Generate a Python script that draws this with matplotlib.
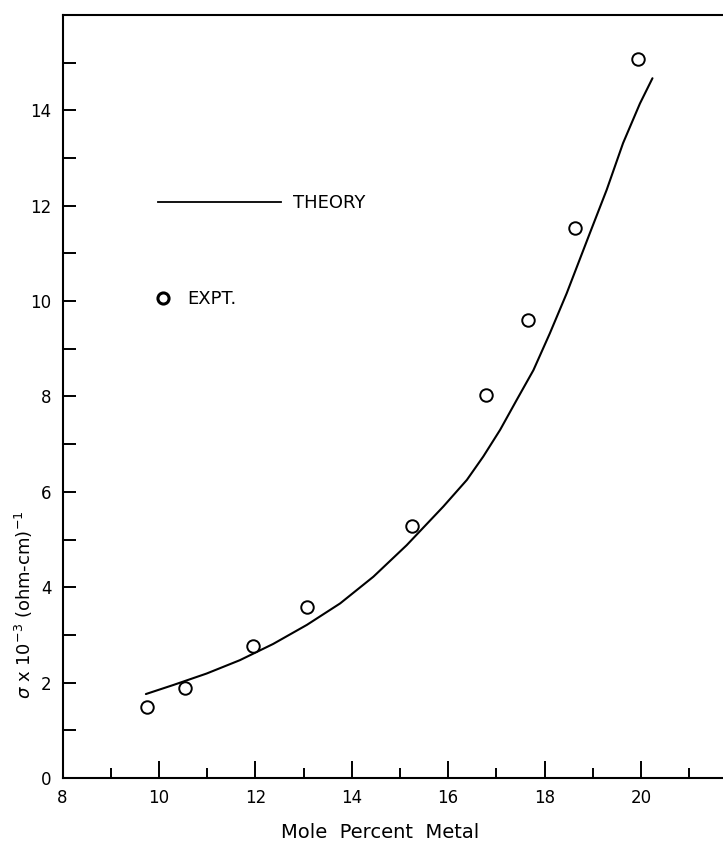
import numpy as np
import matplotlib
matplotlib.use("Agg")
import matplotlib.pyplot as plt
from matplotlib.lines import Line2D
from matplotlib.ticker import MultipleLocator

# experimental points (mole % metal, sigma x 1e-3)
expt_x = [9.76, 10.55, 11.95, 13.07, 15.26, 16.79, 17.66, 18.63, 19.94]
expt_y = [1.49, 1.89, 2.77, 3.59, 5.28, 8.02, 9.60, 11.52, 15.07]

# theory curve
theory_x = [9.73, 10.30, 10.99, 11.68, 12.37, 13.07, 13.76, 14.45, 15.14,
            15.90, 16.39, 16.73, 17.08, 17.42, 17.77, 18.11, 18.46, 18.94,
            19.29, 19.63, 19.98, 20.24]
theory_y = [1.76, 1.95, 2.19, 2.47, 2.81, 3.21, 3.66, 4.22, 4.88,
            5.69, 6.25, 6.74, 7.30, 7.92, 8.55, 9.32, 10.16, 11.42,
            12.33, 13.31, 14.14, 14.67]

x_ticks = [8, 10, 12, 14, 16, 18, 20]
y_ticks = [0, 2, 4, 6, 8, 10, 12, 14]

plt.rcParams['font.family'] = ['DejaVu Sans']

W, H = 723, 841
fig = plt.figure(figsize=(W / 100, H / 100), dpi=100)
# axes runs off the right edge like the scanned original
left, bottom = 62.5 / W, (H - 778) / H
width, height = 14 * 48.2 / W, 16 * 47.7 / H
ax = fig.add_axes([left, bottom, width, height])

ax.plot(theory_x, theory_y, color='black', lw=1.5, solid_joinstyle='round',
        solid_capstyle='round', label='THEORY')
ax.plot(expt_x, expt_y, 'o', ms=9, mfc='white', mec='black', mew=1.4)

ax.set_xlim(8, 22)
ax.set_ylim(0, 16)
ax.set_xticks(x_ticks)
ax.set_yticks(y_ticks)
ax.xaxis.set_minor_locator(MultipleLocator(1))
ax.yaxis.set_minor_locator(MultipleLocator(1))

ax.tick_params(axis='both', which='both', direction='in', width=1.4,
               labelsize=12, colors='black')
ax.tick_params(axis='x', which='major', length=12, pad=8)
ax.tick_params(axis='x', which='minor', length=7.5)
ax.tick_params(axis='y', which='both', length=9, pad=8)

ax.spines['right'].set_visible(False)
for s in ['left', 'bottom', 'top']:
    ax.spines[s].set_linewidth(1.5)

ax.set_xlabel('Mole  Percent  Metal', fontsize=14)
ax.xaxis.set_label_coords(0.4705, -0.0708)
ax.xaxis.label.set_va('center')
ax.set_ylabel(r'$\sigma$ x 10$^{-3}$ (ohm-cm)$^{-1}$', fontsize=13)
ax.yaxis.set_label_coords(-0.057, 0.227)
ax.yaxis.label.set_va('center')

# legend entries placed where the original has them
theory_handle = Line2D([], [], color='black', lw=1.3)
leg1 = ax.legend([theory_handle], ['THEORY'], loc='center left',
                 bbox_to_anchor=(0.1415, 0.7534), frameon=False,
                 fontsize=13, handlelength=6.8, handletextpad=0.7,
                 borderpad=0, borderaxespad=0)
ax.add_artist(leg1)
expt_handle = Line2D([], [], ls='none', marker='o', ms=8, mfc='white',
                     mec='black', mew=2.2)
ax.legend([expt_handle], ['EXPT.'], loc='center left',
          bbox_to_anchor=(0.1378, 0.627), frameon=False, fontsize=13,
          handlelength=0.8, handletextpad=0.95, numpoints=1,
          borderpad=0, borderaxespad=0)

fig.savefig('out.png', dpi=100)
